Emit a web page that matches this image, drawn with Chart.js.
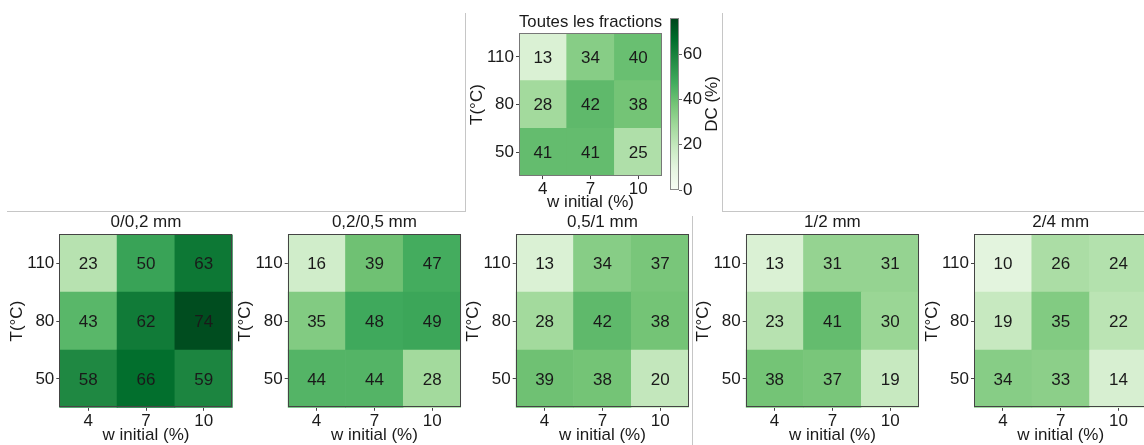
<!DOCTYPE html>
<html>
<head>
<meta charset="utf-8">
<script src="https://cdn.jsdelivr.net/npm/chart.js@4.4.0/dist/chart.umd.min.js"></script>
<style>
  html, body { margin: 0; padding: 0; background: #fff; }
  body { position: relative; width: 1144px; height: 445px; overflow: hidden; }
  canvas { position: absolute; }
  .sep { position: absolute; background: #c6c6c6; }
</style>
</head>
<body>
<!-- panel separators -->
<div class="sep" style="left:465px;top:13px;width:1px;height:199px"></div>
<div class="sep" style="left:7px;top:211px;width:459px;height:1px"></div>
<div class="sep" style="left:722px;top:13px;width:1px;height:199px"></div>
<div class="sep" style="left:722px;top:211px;width:422px;height:1px"></div>
<div class="sep" style="left:692px;top:216px;width:1px;height:229px"></div>
<script>
const FONT = "'Liberation Sans', Arial, sans-serif";
const TEXT = '#1a1a1a';

// axis categories
const moistureLabels = ['4', '7', '10'];      // w initial (%)
const tempLabels = ['50', '80', '110'];       // T(°C), bottom to top
const colorbarTicks = [0, 20, 40, 60];
const DC_MAX = 76;

// DC (%) values, rows from 50 °C (bottom) to 110 °C (top), columns w = 4, 7, 10 %
const dcAll     = [[41, 41, 25], [28, 42, 38], [13, 34, 40]];
const dc0_02    = [[58, 66, 59], [43, 62, 74], [23, 50, 63]];
const dc02_05   = [[44, 44, 28], [35, 48, 49], [16, 39, 47]];
const dc05_1    = [[39, 38, 20], [28, 42, 38], [13, 34, 37]];
const dc1_2     = [[38, 37, 19], [23, 41, 30], [13, 31, 31]];
const dc2_4     = [[34, 33, 14], [19, 35, 22], [10, 26, 24]];

// matplotlib "Greens" colormap stops
const greens = ['#f7fcf5', '#e5f5e0', '#c7e9c0', '#a1d99b', '#74c476',
                '#41ab5d', '#238b45', '#006d2c', '#00441b'];

function hexRgb(h) {
  return [parseInt(h.slice(1, 3), 16), parseInt(h.slice(3, 5), 16), parseInt(h.slice(5, 7), 16)];
}
function greensColor(v) {
  const t = Math.max(0, Math.min(1, v / DC_MAX)) * (greens.length - 1);
  const i = Math.min(Math.floor(t), greens.length - 2);
  const f = t - i;
  const a = hexRgb(greens[i]), b = hexRgb(greens[i + 1]);
  const c = a.map((x, k) => Math.round(x + (b[k] - x) * f));
  return `rgb(${c[0]},${c[1]},${c[2]})`;
}

// thin frame around the plotting area
const framePlugin = {
  id: 'frame',
  afterDatasetsDraw(chart, args, opts) {
    const { ctx, chartArea: a } = chart;
    ctx.save();
    ctx.strokeStyle = opts.color || '#555';
    ctx.lineWidth = 1;
    ctx.strokeRect(Math.round(a.left) + 0.5, Math.round(a.top) + 0.5,
                   Math.round(a.right - a.left) - 1, Math.round(a.bottom - a.top) - 1);
    ctx.restore();
  }
};

// value written in the middle of each cell
const cellLabelPlugin = {
  id: 'cellLabels',
  afterDatasetsDraw(chart) {
    const { ctx } = chart;
    ctx.save();
    ctx.font = `17px ${FONT}`;
    ctx.fillStyle = TEXT;
    ctx.textAlign = 'center';
    ctx.textBaseline = 'middle';
    chart.data.datasets.forEach((ds, di) => {
      chart.getDatasetMeta(di).data.forEach((bar, j) => {
        ctx.fillText(String(ds.dc[j]), bar.x, (bar.y + bar.base) / 2 + 1);
      });
    });
    ctx.restore();
  }
};

function addCanvas(left, top, width, height) {
  const cv = document.createElement('canvas');
  cv.width = width; cv.height = height;
  cv.style.left = left + 'px'; cv.style.top = top + 'px';
  cv.style.width = width + 'px'; cv.style.height = height + 'px';
  document.body.appendChild(cv);
  return cv;
}

function heatmap({ title, values, plotLeft, plotTop, cell, top, height, titleY, frameColor }) {
  const left = Math.floor(plotLeft - 60);
  const yW = plotLeft - left;
  const width = Math.ceil(yW + 3 * cell + 3);
  const cv = addCanvas(left, top, width, height);
  const padTop = titleY - top - 10.2;
  const padBottom = plotTop - top - padTop - 20.4;
  const xH = height - (plotTop - top) - 3 * cell;
  const font = { family: FONT, size: 17 };
  const tickFont = { family: FONT, size: 17, lineHeight: 1 };

  return new Chart(cv, {
    type: 'bar',
    data: {
      labels: moistureLabels,
      datasets: values.map((row, r) => ({
        data: row.map(() => [r - 0.5, r + 0.5]),
        dc: row,
        backgroundColor: row.map(greensColor),
        borderWidth: 0,
        barPercentage: 1,
        categoryPercentage: 1,
        grouped: false
      }))
    },
    options: {
      responsive: false,
      animation: false,
      devicePixelRatio: 1,
      layout: { padding: { left: 0, right: width - yW - 3 * cell, top: 0, bottom: 0 } },
      plugins: {
        legend: { display: false },
        tooltip: { enabled: false },
        title: {
          display: true, text: title, fullSize: false,
          font: { family: FONT, size: 17, lineHeight: 1.2, weight: 'normal' },
          color: TEXT, padding: { top: padTop, bottom: padBottom }
        },
        frame: { color: frameColor }
      },
      scales: {
        x: {
          offset: true,
          grid: { offset: false, drawOnChartArea: false, tickLength: 3, color: '#444' },
          border: { display: false },
          ticks: { font: tickFont, color: TEXT, padding: 2, maxRotation: 0 },
          title: { display: true, text: 'w initial (%)', font, color: TEXT, padding: { top: 0, bottom: -1 } },
          afterFit: s => { s.height = xH; }
        },
        y: {
          min: -0.5, max: 2.5,
          afterBuildTicks: s => { s.ticks = tempLabels.map((_, i) => ({ value: i })); },
          ticks: { callback: v => tempLabels[v], font: tickFont, color: TEXT, padding: 2 },
          grid: { drawOnChartArea: false, tickLength: 3, color: '#444' },
          border: { display: false },
          title: { display: true, text: 'T(°C)', font, color: TEXT, padding: { top: 8, bottom: 0 } },
          afterFit: s => { s.width = yW; }
        }
      }
    },
    plugins: [framePlugin, cellLabelPlugin]
  });
}

// colour scale bar with its rotated label
const colorbarLabelPlugin = {
  id: 'cbLabel',
  afterDraw(chart) {
    const { ctx, chartArea: a } = chart;
    ctx.save();
    ctx.translate(a.right + 33, (a.top + a.bottom) / 2);
    ctx.rotate(-Math.PI / 2);
    ctx.font = `17px ${FONT}`;
    ctx.fillStyle = TEXT;
    ctx.textAlign = 'center';
    ctx.textBaseline = 'middle';
    ctx.fillText('DC (%)', 0, 0);
    ctx.restore();
  }
};

function colorbar({ plotLeft, plotRight, plotTop, plotBottom }) {
  const padL = 8;
  const left = plotLeft - padL;
  const width = padL + (plotRight - plotLeft) + 60;
  const height = plotBottom + 14;
  const cv = addCanvas(left, 0, width, height);
  new Chart(cv, {
    type: 'bar',
    data: {
      labels: ['DC'],
      datasets: [{
        data: [[0, DC_MAX]],
        borderWidth: 0,
        barPercentage: 1,
        categoryPercentage: 1,
        backgroundColor: c => {
          const a = c.chart.chartArea;
          if (!a) return greens[4];
          const g = c.chart.ctx.createLinearGradient(0, a.bottom, 0, a.top);
          greens.forEach((col, i) => g.addColorStop(i / (greens.length - 1), col));
          return g;
        }
      }]
    },
    options: {
      responsive: false,
      animation: false,
      devicePixelRatio: 1,
      layout: { padding: { left: padL, right: 0, top: plotTop, bottom: height - plotBottom } },
      plugins: { legend: { display: false }, tooltip: { enabled: false }, frame: { color: '#8a8a8a' } },
      scales: {
        x: { display: false },
        y: {
          position: 'right',
          min: 0, max: DC_MAX,
          afterBuildTicks: s => { s.ticks = colorbarTicks.map(v => ({ value: v })); },
          ticks: { font: { family: FONT, size: 17, lineHeight: 1 }, color: TEXT, padding: 1 },
          grid: { drawOnChartArea: false, tickLength: 3, color: '#666' },
          border: { display: false },
          afterFit: s => { s.width = 60; }
        }
      }
    },
    plugins: [framePlugin, colorbarLabelPlugin]
  });
}

// overall panel
heatmap({ title: 'Toutes les fractions', values: dcAll, plotLeft: 519, plotTop: 33, cell: 47.7,
          top: 0, height: 212, titleY: 22, frameColor: '#777' });
colorbar({ plotLeft: 670, plotRight: 679, plotTop: 18, plotBottom: 190 });

// one panel per size fraction
const fractionTitles = ['0/0,2 mm', '0,2/0,5 mm', '0,5/1 mm', '1/2 mm', '2/4 mm'];
const fractionValues = [dc0_02, dc02_05, dc05_1, dc1_2, dc2_4];
const fractionLefts = [59.3, 287.7, 515.7, 745.7, 974];
fractionTitles.forEach((t, i) => {
  heatmap({ title: t, values: fractionValues[i], plotLeft: fractionLefts[i], plotTop: 234.4,
            cell: 57.8, top: 200, height: 245, titleY: 222, frameColor: '#444' });
});
</script>
</body>
</html>
